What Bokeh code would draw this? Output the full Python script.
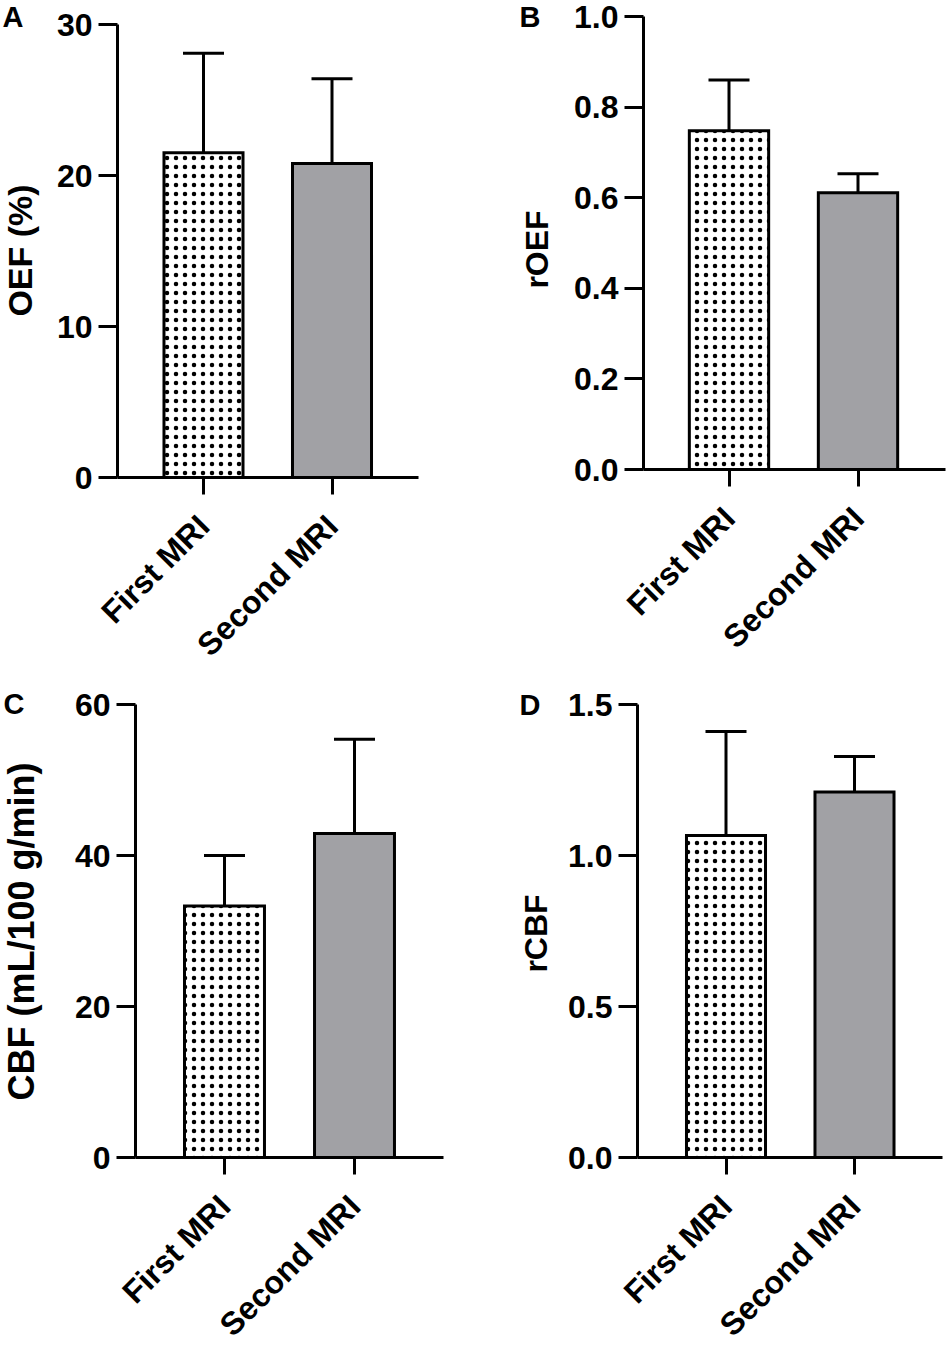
import math
from bokeh.plotting import figure
from bokeh.models import (ColumnDataSource, Range1d, FixedTicker, Whisker,
                          TeeHead, Label, LabelSet, NumeralTickFormatter)
from bokeh.core.properties import value
from bokeh.layouts import column, row
from bokeh.embed import file_html
from bokeh.resources import INLINE

# ---------------- data ----------------
categories = ["First MRI", "Second MRI"]

oef_mean = [21.5, 20.8]
oef_sd = [6.6, 5.6]

roef_mean = [0.748, 0.611]
roef_sd = [0.112, 0.042]

cbf_mean = [33.3, 42.9]
cbf_sd = [6.7, 12.5]

rcbf_mean = [1.066, 1.21]
rcbf_sd = [0.345, 0.118]

panel_letters = ["A", "B", "C", "D"]
y_titles = ["OEF (%)", "rOEF", "CBF (mL/100 g/min)", "rCBF"]
y_ticks_a = [0, 10, 20, 30]
y_ticks_b = [0, 0.2, 0.4, 0.6, 0.8, 1.0]
y_ticks_c = [0, 20, 40, 60]
y_ticks_d = [0, 0.5, 1.0, 1.5]

bar_fills = ["white", "#a1a1a5"]
bar_hatches = ["dot", " "]

FONT = "Liberation Sans"
MID = 0.36  # Label anchor sits this many em above the text baseline


def make_panel(letter, ytitle, means, sds, ticks, fmt, ymax, geo):
    # geo: page-pixel layout of this panel
    x0, y0, W, H = geo["canvas"]
    c1, c2 = geo["centers"]
    zero, top = geo["zero"], geo["top"]

    def X(px):
        return 1 + (px - c1) / (c2 - c1)

    def Y(py):
        return (zero - py) / (zero - top) * ymax

    p = figure(x_range=Range1d(X(x0), X(x0 + W)),
               y_range=Range1d(Y(y0 + H), Y(y0)),
               width=W, height=H, min_border=0,
               min_border_left=0, min_border_right=0,
               min_border_top=0, min_border_bottom=0,
               frame_align=False,
               output_backend="svg", toolbar_location=None)
    p.outline_line_color = None
    p.xgrid.grid_line_color = None
    p.ygrid.grid_line_color = None
    p.background_fill_color = "white"
    p.border_fill_color = "white"

    xs = [i + 1 for i in range(len(categories))]
    uppers = [m + s for m, s in zip(means, sds)]
    src = ColumnDataSource(dict(x=xs, cat=categories, top=means,
                                upper=uppers, base=[0] * len(xs),
                                fill=bar_fills, hatch=bar_hatches))
    p.vbar(x="x", top="top", width=0.615, source=src, fill_color="fill",
           line_color="black", line_width=3, line_join="miter",
           hatch_pattern="hatch", hatch_color="black", hatch_scale=9,
           hatch_weight=0.1)
    w = Whisker(base="x", lower="top", upper="upper", source=src,
                line_color="black", line_width=3,
                upper_head=TeeHead(size=41, line_width=3, line_color="black"),
                lower_head=None, level="overlay")
    p.add_layout(w)

    ya = p.yaxis[0]
    ya.fixed_location = X(geo["axis_left"])
    ya.bounds = (0, ymax)
    ya.ticker = FixedTicker(ticks=ticks)
    ya.formatter = NumeralTickFormatter(format=fmt)
    ya.axis_line_width = 3
    ya.major_tick_line_width = 3
    ya.major_tick_out = 19
    ya.major_tick_in = 0
    ya.minor_tick_line_color = None
    ya.major_label_text_font = FONT
    ya.major_label_text_font_style = "bold"
    ya.major_label_text_font_size = "32px"
    ya.major_label_text_color = "black"
    ya.major_label_standoff = 6

    xa = p.xaxis[0]
    xa.fixed_location = 0
    xa.bounds = (X(geo["axis_left"]), X(geo["right"]))
    xa.ticker = FixedTicker(ticks=xs)
    xa.axis_line_width = 3
    xa.major_tick_line_width = 3
    xa.major_tick_out = 17
    xa.major_tick_in = 0
    xa.minor_tick_line_color = None
    xa.major_label_text_font_size = "0px"
    xa.major_label_text_color = None

    # rotated category labels, anchored under each category tick
    cat_labels = LabelSet(x="x", y="base", text="cat", source=src,
                          angle=math.pi / 4, text_align="right",
                          text_baseline="alphabetic", x_offset=8,
                          y_offset=-51, text_font=value(FONT),
                          text_font_style="bold", text_font_size="32px",
                          text_color="black")
    p.add_layout(cat_labels)

    # y axis title (rotated); baseline x given in geo, shifted to anchor
    tx, ty = geo["title_pos"]
    tsize = geo["title_size"]
    ttl = Label(x=X(tx - MID * tsize), y=Y(ty), text=ytitle,
                angle=math.pi / 2, text_font=FONT, text_font_style="bold",
                text_font_size=f"{tsize}px", text_color="black",
                text_align="center", text_baseline="alphabetic")
    p.add_layout(ttl)

    # panel letter; baseline y given in geo
    lx, ly = geo["letter_pos"]
    lsize = 29
    lab = Label(x=X(lx), y=Y(ly - MID * lsize), text=letter, text_font=FONT,
                text_font_style="bold", text_font_size=f"{lsize}px",
                text_color="black", text_align="left",
                text_baseline="alphabetic")
    p.add_layout(lab)
    return p


geoA = dict(canvas=(0, 0, 503, 676), centers=(203, 331.5), zero=477, top=24,
            axis_left=117, right=418, title_pos=(32, 250), title_size=34,
            letter_pos=(2, 27))
geoB = dict(canvas=(503, 0, 446, 676), centers=(728.5, 857.5), zero=469,
            top=16, axis_left=643, right=945, title_pos=(548, 249),
            title_size=32, letter_pos=(519, 27))
geoC = dict(canvas=(0, 676, 503, 670), centers=(224, 354), zero=1157,
            top=704, axis_left=135, right=443, title_pos=(34, 931),
            title_size=36, letter_pos=(3, 714))
geoD = dict(canvas=(503, 676, 446, 670), centers=(725.5, 854), zero=1157,
            top=704, axis_left=637, right=942, title_pos=(547, 933),
            title_size=32, letter_pos=(519, 715))

pA = make_panel("A", y_titles[0], oef_mean, oef_sd, y_ticks_a, "0", 30, geoA)
pB = make_panel("B", y_titles[1], roef_mean, roef_sd, y_ticks_b, "0.0", 1.0, geoB)
pC = make_panel("C", y_titles[2], cbf_mean, cbf_sd, y_ticks_c, "0", 60, geoC)
pD = make_panel("D", y_titles[3], rcbf_mean, rcbf_sd, y_ticks_d, "0.0", 1.5, geoD)

layout = column(row(pA, pB), row(pC, pD))

with open("out.html", "w") as f:
    f.write(file_html(layout, INLINE))
